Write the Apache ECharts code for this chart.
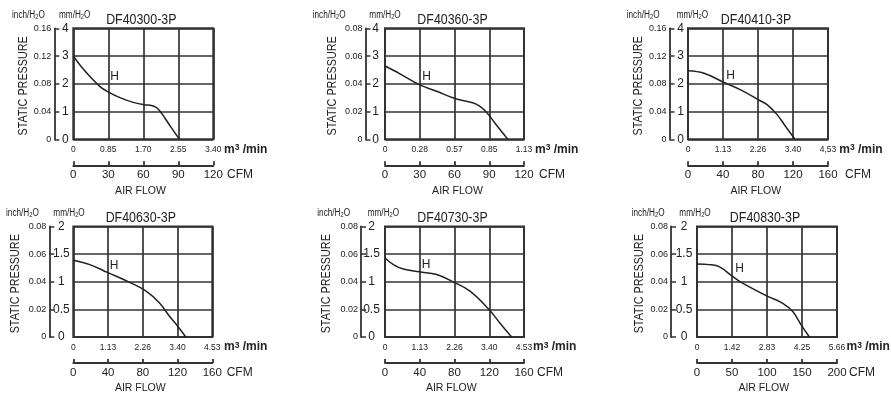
<!DOCTYPE html>
<html><head><meta charset="utf-8">
<script src="https://cdn.jsdelivr.net/npm/echarts@6/dist/echarts.min.js"></script>
<style>html,body{margin:0;padding:0;background:#fff}#c{width:891px;height:395px}</style>
</head><body><div id="c"></div>
<script>
// ---- data ----
const titles = ['DF40300-3P','DF40360-3P','DF40410-3P','DF40630-3P','DF40730-3P','DF40830-3P'];

const p1Flow = [0, 5.7, 14.3, 22.9, 29.4, 40, 51.4, 61.4, 67, 71, 74, 78.6, 84.3, 91];
const p1Pres = [3.0, 2.68, 2.26, 1.90, 1.72, 1.50, 1.33, 1.24, 1.22, 1.15, 1.03, 0.76, 0.40, 0];
const p2Flow = [0, 12.9, 29.6, 44.6, 61.9, 76.3, 82, 87.8, 95, 106];
const p2Pres = [2.64, 2.36, 1.97, 1.73, 1.45, 1.31, 1.19, 0.97, 0.58, 0];
const p3Flow = [0, 18.3, 41.1, 60.2, 83, 90.7, 102, 111.6, 122.3];
const p3Pres = [2.47, 2.38, 2.05, 1.78, 1.38, 1.24, 0.88, 0.46, 0];
const p4Flow = [0, 19, 39.2, 64.8, 83.8, 99, 110.5, 120, 129.5];
const p4Pres = [1.39, 1.31, 1.17, 0.99, 0.83, 0.62, 0.38, 0.20, 0];
const p5Flow = [0, 9.6, 21.1, 39.5, 59.5, 79.4, 97.8, 119, 132.4, 145.8];
const p5Pres = [1.43, 1.31, 1.23, 1.18, 1.13, 0.99, 0.83, 0.51, 0.25, 0];
const p6Flow = [0, 18, 32.3, 50.4, 63.2, 98.8, 122.6, 136.8, 148.7, 160.6];
const p6Pres = [1.32, 1.31, 1.27, 1.10, 0.99, 0.75, 0.61, 0.46, 0.22, 0];

const m3Ticks1 = ['0','0.85','1.70','2.55','3.40'];
const m3Ticks2 = ['0','0.28','0.57','0.85','1.13'];
const m3Ticks3 = ['0','1.13','2.26','3.40','4,53'];
const m3Ticks4 = ['0','1.13','2.26','3.40','4.53'];
const m3Ticks6 = ['0','1.42','2.83','4.25','5.66'];
const cfmTicks120 = ['0','30','60','90','120'];
const cfmTicks160 = ['0','40','80','120','160'];
const cfmTicks200 = ['0','50','100','150','200'];
const mmTicks4 = ['0','1','2','3','4'];
const mmTicks2 = ['0','0.5','1','1.5','2'];
const inchTicks16 = ['0','0.04','0.08','0.12','0.16'];
const inchTicks08 = ['0','0.02','0.04','0.06','0.08'];

const cfmMax = [120, 120, 160, 160, 160, 200];
const mmMax = [4, 4, 4, 2, 2, 2];
const hFlow = [35.3, 35.8, 48.6, 47, 47.2, 60.7];
const hPres = [2.24, 2.24, 2.28, 1.29, 1.30, 1.23];

const panels = [
  {flow:p1Flow, pres:p1Pres, m3:m3Ticks1, cfm:cfmTicks120, mm:mmTicks4, inch:inchTicks16},
  {flow:p2Flow, pres:p2Pres, m3:m3Ticks2, cfm:cfmTicks120, mm:mmTicks4, inch:inchTicks08},
  {flow:p3Flow, pres:p3Pres, m3:m3Ticks3, cfm:cfmTicks160, mm:mmTicks4, inch:inchTicks16},
  {flow:p4Flow, pres:p4Pres, m3:m3Ticks4, cfm:cfmTicks160, mm:mmTicks2, inch:inchTicks08},
  {flow:p5Flow, pres:p5Pres, m3:m3Ticks4, cfm:cfmTicks160, mm:mmTicks2, inch:inchTicks08},
  {flow:p6Flow, pres:p6Pres, m3:m3Ticks6, cfm:cfmTicks200, mm:mmTicks2, inch:inchTicks08}
];

// ---- layout (pixels) ----
const layout = [
  {L:73.3, T:28.3, W:140, H:111,   yOff:19,   mmGap:11,   inchX:12,    mmX:59,    spX:23,    m3X:224,   cfmX:227,   afX:140.5},
  {L:385,  T:28.3, W:139, H:111,   yOff:19.5, mmGap:10,   inchX:312.7, mmX:369.3, spX:332,   m3X:535,   cfmX:539,   afX:457.5},
  {L:688,  T:28.3, W:140, H:111,   yOff:18.5, mmGap:11,   inchX:626.7, mmX:676.7, spX:638,   m3X:839.3, cfmX:845,   afX:755.8},
  {L:73.3, T:226.5,W:139, H:110.5, yOff:24,   mmGap:12,   inchX:6,     mmX:53.3,  spX:15,    m3X:224,   cfmX:226.7, afX:140.3},
  {L:385,  T:226.5,W:139, H:110.5, yOff:24,   mmGap:10.5, inchX:317.3, mmX:367.7, spX:326.7, m3X:533,   cfmX:537,   afX:451.3},
  {L:697,  T:226.5,W:140, H:110.5, yOff:26,   mmGap:13,   inchX:631.7, mmX:679.3, spX:639,   m3X:846.5, cfmX:849,   afX:763.8}
];

const REG = '"Liberation Sans",Arial,Helvetica,sans-serif';
const INK = '#222';
const LINE = '#333';
const NARROW_SCALE = 0.8;

const grid = [], xAxis = [], yAxis = [], series = [], graphic = [];
function fmt(arr, interval){ return v => arr[Math.round(v / interval)]; }
function txt(x, y, text, size, align, valign, extra){
  return Object.assign({type:'text', x:x, y:y, silent:true,
    style:{text:text, fontSize:size, fontFamily:REG, fill:INK,
      align:align, textAlign:align, verticalAlign:valign, textVerticalAlign:valign}}, extra||{});
}

panels.forEach((p, i) => {
  const g = layout[i];
  const xi = cfmMax[i] / 4, yi = mmMax[i] / 4;
  grid.push({left:g.L, top:g.T, width:g.W, height:g.H, show:true, borderColor:LINE, borderWidth:2, backgroundColor:'transparent'});
  xAxis.push({gridIndex:i, type:'value', min:0, max:cfmMax[i], interval:xi,
    axisLine:{show:false, onZero:false}, axisTick:{show:false},
    splitLine:{show:true, lineStyle:{color:LINE, width:1.7}},
    axisLabel:{show:true, margin:6, fontSize:8.5, fontFamily:REG, color:INK, formatter:fmt(p.m3, xi), showMinLabel:true, showMaxLabel:true}});
  xAxis.push({gridIndex:i, type:'value', min:0, max:cfmMax[i], interval:xi, position:'bottom', offset:26,
    axisLine:{show:true, onZero:false, lineStyle:{color:LINE, width:1.8}},
    axisTick:{show:true, inside:true, length:4, lineStyle:{color:LINE, width:1.8}},
    splitLine:{show:false},
    axisLabel:{show:true, margin:4, fontSize:11.5, fontFamily:REG, color:INK, formatter:fmt(p.cfm, xi), showMinLabel:true, showMaxLabel:true}});
  yAxis.push({gridIndex:i, type:'value', min:0, max:mmMax[i], interval:yi,
    axisLine:{show:false, onZero:false}, axisTick:{show:false}, axisLabel:{show:false},
    splitLine:{show:true, lineStyle:{color:LINE, width:1.7}}});
  yAxis.push({gridIndex:i, type:'value', min:0, max:mmMax[i], interval:yi, position:'left', offset:g.yOff,
    axisLine:{show:true, onZero:false, lineStyle:{color:LINE, width:1.8}},
    axisTick:{show:true, inside:true, length:5, lineStyle:{color:LINE, width:1.5}},
    splitLine:{show:false},
    axisLabel:{show:true, inside:true, margin:g.mmGap, align:'center', fontSize:12, fontFamily:REG, color:INK, formatter:fmt(p.mm, yi), showMinLabel:true, showMaxLabel:true}});
  yAxis.push({gridIndex:i, type:'value', min:0, max:mmMax[i], interval:yi, position:'left', offset:g.yOff,
    axisLine:{show:false, onZero:false}, axisTick:{show:false}, splitLine:{show:false},
    axisLabel:{show:true, margin:3, fontSize:9, fontFamily:REG, color:INK, formatter:fmt(p.inch, yi), showMinLabel:true, showMaxLabel:true}});

  series.push({type:'line', xAxisIndex:2*i, yAxisIndex:3*i, smooth:0.4, showSymbol:false, silent:true,
    lineStyle:{color:INK, width:1.5},
    data:p.flow.map((f, k) => [f, p.pres[k]]),
    markPoint:{symbol:'circle', symbolSize:0, silent:true,
      label:{show:true, position:'inside', formatter:'H', fontSize:12, fontFamily:REG, color:INK},
      data:[{coord:[hFlow[i], hPres[i]]}]}});

  const B = g.T + g.H, cx = g.L + g.W / 2;
  graphic.push(txt(cx - 2, g.T - 8.3, titles[i], 15.5, 'center', 'middle', {scaleX:NARROW_SCALE}));
  graphic.push(txt(g.spX, g.T + g.H / 2 + 2, 'STATIC PRESSURE', 13.5, 'center', 'middle', {rotation:Math.PI / 2, scaleX:NARROW_SCALE}));
  graphic.push(txt(g.afX, B + 51.4, 'AIR FLOW', 10.5, 'center', 'middle'));
  graphic.push(txt(g.cfmX, B + 35.3, 'CFM', 12, 'left', 'middle'));
  graphic.push({type:'text', x:g.m3X, y:B + 10, silent:true,
    style:{text:'{a|m}{s|3}{a| /min}', fill:INK, align:'left', textAlign:'left', verticalAlign:'middle', textVerticalAlign:'middle',
      rich:{a:{fontSize:12, fontFamily:REG, fontWeight:'bold', fill:INK}, s:{fontSize:8.5, fontFamily:REG, fontWeight:'bold', verticalAlign:'top', fill:INK}}}});
  ['inch', 'mm'].forEach(k => {
    graphic.push({type:'text', x:k === 'inch' ? g.inchX : g.mmX, y:g.T - 12.8, silent:true, scaleX:0.82,
      style:{text:'{a|' + k + '/H}{s|2}{a|O}', fill:INK, align:'left', textAlign:'left', verticalAlign:'middle', textVerticalAlign:'middle',
        rich:{a:{fontSize:10, fontFamily:REG, fill:INK}, s:{fontSize:7, fontFamily:REG, verticalAlign:'bottom', fill:INK}}}});
  });
});

const chart = echarts.init(document.getElementById('c'), null, {renderer:'canvas'});
chart.setOption({animation:false, backgroundColor:'#fff', grid, xAxis, yAxis, series, graphic});
</script></body></html>
